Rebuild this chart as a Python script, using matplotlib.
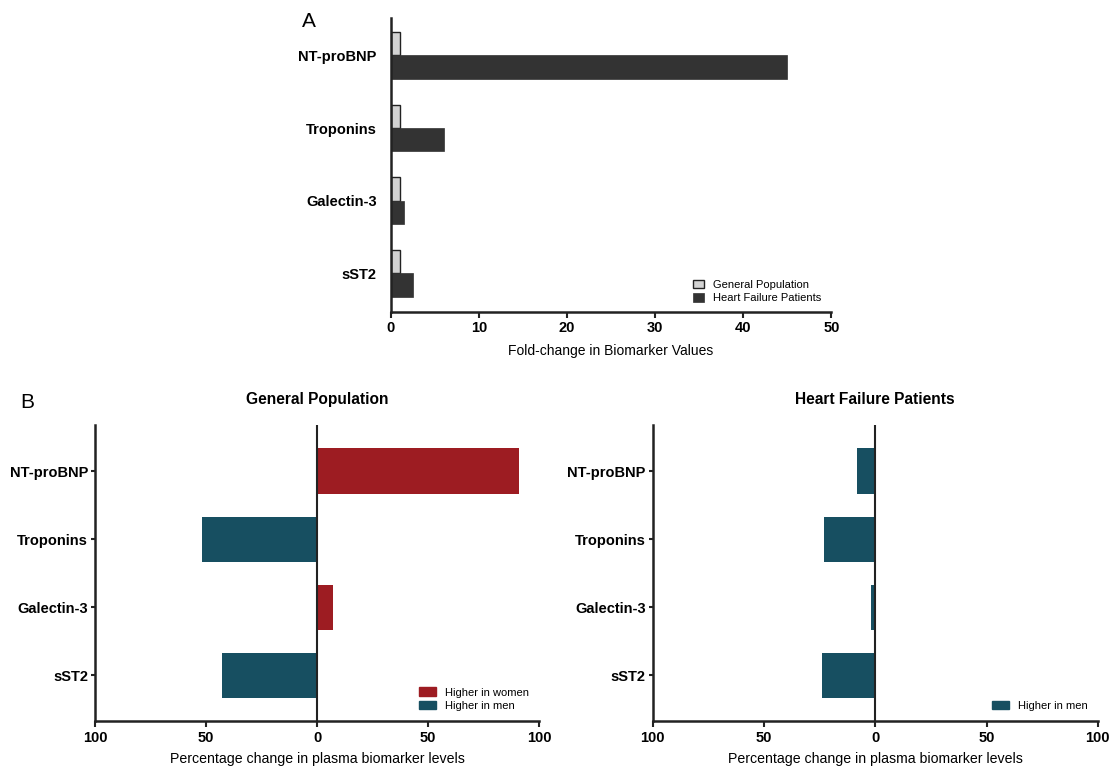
import matplotlib.pyplot as plt
from matplotlib.patches import Patch

plt.rcParams["font.family"] = ["Liberation Sans", "DejaVu Sans"]

# data
biomarkers = ["NT-proBNP", "Troponins", "Galectin-3", "sST2"]
fold_general = [1, 1, 1, 1]
fold_hf = [45, 6, 1.5, 2.5]
pct_general = [91, -52, 7, -43]
pct_hf = [-8, -23, -2, -24]
fold_ticks = [0, 10, 20, 30, 40, 50]
pct_ticks = [-100, -50, 0, 50, 100]

RED = "#9d1c22"
TEAL = "#174f61"
DARK = "#333333"
LIGHT = "#d3d3d3"
AXC = "#222222"

fig = plt.figure(figsize=(11.1, 7.66), dpi=100)


def style_axes(ax):
    for s in ["top", "right"]:
        ax.spines[s].set_visible(False)
    for s in ["left", "bottom"]:
        ax.spines[s].set_linewidth(1.8)
        ax.spines[s].set_color(AXC)


# panel A
axA = fig.add_axes([0.352, 0.593, 0.397, 0.384])
ypos = list(range(len(biomarkers)))
h = 0.32
axA.barh([y - h / 2 for y in ypos], fold_general, height=h, color=LIGHT,
         edgecolor=AXC, linewidth=1.0, label="General Population")
axA.barh([y + h / 2 for y in ypos], fold_hf, height=h, color=DARK,
         edgecolor=DARK, linewidth=0.5, label="Heart Failure Patients")
axA.set_ylim(3.53, -0.52)
axA.set_xlim(0, 50)
axA.set_yticks(ypos)
axA.set_yticklabels(biomarkers, fontsize=10.5, fontweight="bold")
axA.set_xticks(fold_ticks)
axA.set_xticklabels([str(t) for t in fold_ticks], fontsize=10.5, fontweight="bold")
axA.tick_params(axis="y", length=0, pad=10)
axA.tick_params(axis="x", length=4, width=1.5, color=AXC, pad=3)
axA.set_xlabel("Fold-change in Biomarker Values", fontsize=10, labelpad=6)
style_axes(axA)
axA.legend(loc="lower right", fontsize=8, frameon=False, handlelength=1.0,
           handleheight=0.8, labelspacing=0.3, bbox_to_anchor=(1.0, -0.005))
fig.text(0.272, 0.972, "A", fontsize=15, va="center", ha="left")


def pct_panel(rect, values, title, show_women):
    ax = fig.add_axes(rect)
    cols = [RED if v > 0 else TEAL for v in values]
    ax.barh(ypos, values, height=0.67, color=cols)
    ax.axvline(0, color=AXC, linewidth=1.5)
    ax.set_ylim(3.67, -0.68)
    ax.set_xlim(-100, 100)
    ax.set_yticks(ypos)
    ax.set_yticklabels(biomarkers, fontsize=10.5, fontweight="bold")
    ax.set_xticks(pct_ticks)
    ax.set_xticklabels([str(abs(t)) for t in pct_ticks], fontsize=10.5, fontweight="bold")
    ax.tick_params(axis="y", length=3, width=1.5, color=AXC, pad=2)
    ax.tick_params(axis="x", length=4, width=1.5, color=AXC, pad=3)
    ax.set_xlabel("Percentage change in plasma biomarker levels", fontsize=10.2, labelpad=5)
    ax.set_title(title, fontsize=11.2, fontweight="bold", pad=15)
    style_axes(ax)
    handles = []
    if show_women:
        handles.append(Patch(color=RED, label="Higher in women"))
    handles.append(Patch(color=TEAL, label="Higher in men"))
    ax.legend(handles=handles, loc="lower right", fontsize=8, frameon=False,
              handlelength=1.5, handleheight=0.8, labelspacing=0.3,
              bbox_to_anchor=(1.0, 0.0))
    return ax


pct_panel([0.0856, 0.0587, 0.400, 0.3865], pct_general, "General Population", True)
pct_panel([0.588, 0.0587, 0.401, 0.3865], pct_hf, "Heart Failure Patients", False)
fig.text(0.018, 0.475, "B", fontsize=15, va="center", ha="left")

plt.savefig("out.png", dpi=100)
